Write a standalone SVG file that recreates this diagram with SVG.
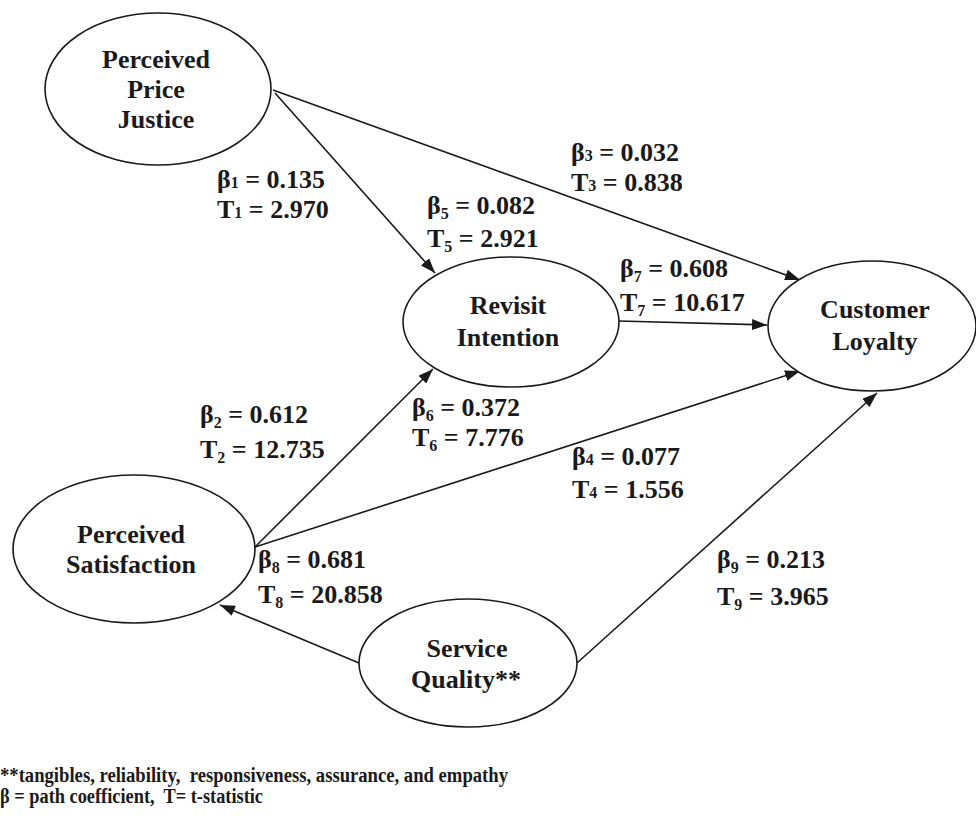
<svg xmlns="http://www.w3.org/2000/svg" width="976" height="821" viewBox="0 0 976 821">
<style>
.node ellipse{fill:#fff;stroke:#1a1a1a;stroke-width:1.6}
.nt{font-family:"Liberation Serif","Times New Roman",serif;font-weight:bold;font-size:26px;fill:#1a1a1a;text-anchor:middle}
.lb{font-family:"Liberation Serif","Times New Roman",serif;font-weight:bold;font-size:26px;fill:#1a1a1a}
.sb{font-size:16px}
.ft{font-family:"Liberation Serif","Times New Roman",serif;font-weight:bold;font-size:20px;fill:#1a1a1a;white-space:pre}
.conn line{stroke:#1a1a1a;stroke-width:1.6;marker-end:url(#ah)}
</style>
<defs>
<marker id="ah" markerUnits="userSpaceOnUse" markerWidth="15" markerHeight="11" refX="15" refY="5.5" orient="auto">
<path d="M0,0 L15,5.5 L0,11 z" fill="#1a1a1a"/>
</marker>
</defs>
<rect width="976" height="821" fill="#fff"/>
<g id="connectors" class="conn">
<line x1="275" y1="93" x2="435" y2="273"/>
<line x1="273" y1="90" x2="800" y2="280"/>
<line x1="619" y1="321" x2="767" y2="325"/>
<line x1="255" y1="547" x2="433" y2="369"/>
<line x1="255" y1="547" x2="800" y2="371"/>
<line x1="359" y1="663" x2="220" y2="605"/>
<line x1="577" y1="663" x2="877" y2="393"/>
</g>
<g id="ppj" class="node">
<ellipse cx="158" cy="89" rx="113" ry="76"/>
<text class="nt" x="156" y="68">Perceived</text>
<text class="nt" x="156" y="98">Price</text>
<text class="nt" x="156" y="128">Justice</text>
</g>
<g id="ri" class="node">
<ellipse cx="511" cy="322" rx="108" ry="65"/>
<text class="nt" x="508" y="314">Revisit</text>
<text class="nt" x="508" y="346">Intention</text>
</g>
<g id="cl" class="node">
<ellipse cx="872" cy="326" rx="104" ry="65"/>
<text class="nt" x="875" y="318">Customer</text>
<text class="nt" x="875" y="350">Loyalty</text>
</g>
<g id="ps" class="node">
<ellipse cx="134" cy="549" rx="121" ry="74"/>
<text class="nt" x="131" y="543">Perceived</text>
<text class="nt" x="131" y="573">Satisfaction</text>
</g>
<g id="sq" class="node">
<ellipse cx="468" cy="663" rx="109" ry="64"/>
<text class="nt" x="467" y="657">Service</text>
<text class="nt" x="466" y="688">Quality**</text>
</g>
<g id="labels">
<text class="lb" x="217" y="188">β<tspan class="sb">1</tspan> = 0.135</text>
<text class="lb" x="217" y="218">T<tspan class="sb">1</tspan> = 2.970</text>
<text class="lb" x="571" y="161">β<tspan class="sb">3</tspan> = 0.032</text>
<text class="lb" x="571" y="191">T<tspan class="sb">3</tspan> = 0.838</text>
<text class="lb" x="427" y="214">β<tspan class="sb" dy="5">5</tspan><tspan dy="-5"> = 0.082</tspan></text>
<text class="lb" x="427" y="247">T<tspan class="sb" dy="5">5</tspan><tspan dy="-5"> = 2.921</tspan></text>
<text class="lb" x="620" y="277">β<tspan class="sb" dy="5">7</tspan><tspan dy="-5"> = 0.608</tspan></text>
<text class="lb" x="620" y="311">T<tspan class="sb" dy="5">7</tspan><tspan dy="-5"> = 10.617</tspan></text>
<text class="lb" x="200" y="423">β<tspan class="sb" dy="5">2</tspan><tspan dy="-5"> = 0.612</tspan></text>
<text class="lb" x="200" y="458">T<tspan class="sb" dy="5">2</tspan><tspan dy="-5"> = 12.735</tspan></text>
<text class="lb" x="412" y="416">β<tspan class="sb" dy="5">6</tspan><tspan dy="-5"> = 0.372</tspan></text>
<text class="lb" x="412" y="446">T<tspan class="sb" dy="5">6</tspan><tspan dy="-5"> = 7.776</tspan></text>
<text class="lb" x="572" y="465">β<tspan class="sb">4</tspan> = 0.077</text>
<text class="lb" x="572" y="498">T<tspan class="sb">4</tspan> = 1.556</text>
<text class="lb" x="258" y="568">β<tspan class="sb" dy="5">8</tspan><tspan dy="-5"> = 0.681</tspan></text>
<text class="lb" x="258" y="603">T<tspan class="sb" dy="5">8</tspan><tspan dy="-5"> = 20.858</tspan></text>
<text class="lb" x="717" y="568">β<tspan class="sb" dy="5">9</tspan><tspan dy="-5"> = 0.213</tspan></text>
<text class="lb" x="717" y="605">T<tspan class="sb" dy="5">9</tspan><tspan dy="-5"> = 3.965</tspan></text>
</g>
<g id="footer">
<text class="ft" x="0" y="782" textLength="508" lengthAdjust="spacingAndGlyphs">**tangibles, reliability,  responsiveness, assurance, and empathy</text>
<text class="ft" x="0" y="803" textLength="263" lengthAdjust="spacingAndGlyphs">β = path coefficient,  T= t-statistic</text>
</g>
</svg>
